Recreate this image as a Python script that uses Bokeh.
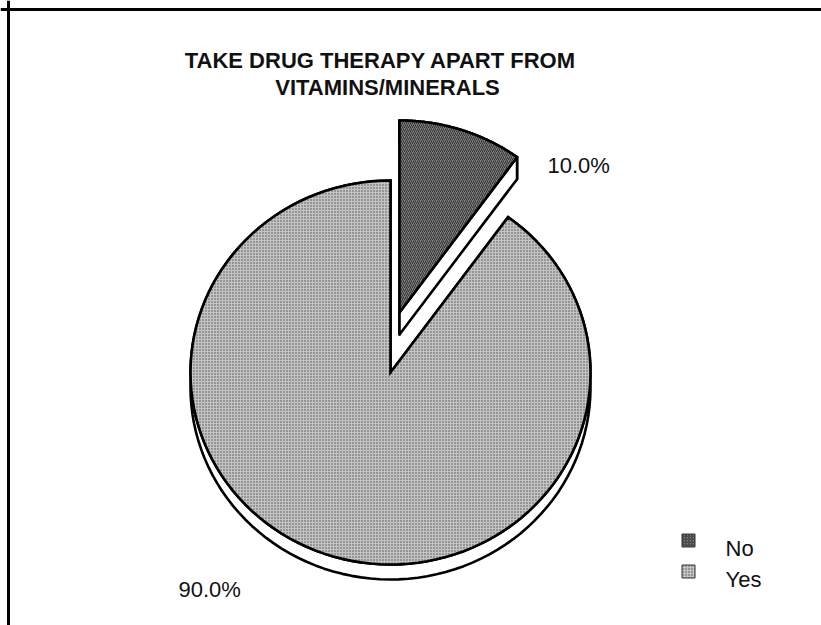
import numpy as np
from bokeh.plotting import figure
from bokeh.models import Range1d, Span
from bokeh.core.properties import value
from bokeh.embed import file_html
from bokeh.resources import INLINE

# ---- data ----
categories = ["No", "Yes"]
percentages = [10.0, 90.0]
pct_labels = ["10.0%", "90.0%"]
title_lines = ["TAKE DRUG THERAPY APART FROM", "VITAMINS/MINERALS"]

# ---- layout / style constants (pixels) ----
W, H = 821, 625
CX, CY = 390, 372
RX, RY = 200, 192
DEPTH = {"No": 22, "Yes": 15}
EXPLODE = {"No": (9, -60), "Yes": (0, 0)}
FILL = {"No": "#7e7e7e", "Yes": "#c4c4c4"}
HATCH = {"No": "right_diagonal_line", "Yes": "dot"}
HATCH_SCALE = {"No": 4, "Yes": 3}
LABEL_POS = {"No": (547, 165), "Yes": (178, 589)}
LEGEND_MARK_X, LEGEND_TEXT_X = 688, 725
LEGEND_Y = {"No": 540, "Yes": 571}
FONT = value("Liberation Sans")
LW = 2.6

p = figure(width=W, height=H, x_range=Range1d(0, W), y_range=Range1d(H, 0),
           output_backend="svg", toolbar_location=None, min_border=0,
           x_axis_location=None, y_axis_location=None)
p.grid.visible = False
p.outline_line_color = None
p.background_fill_color = "white"
p.border_fill_color = "white"

# frame (left and top edges visible)
p.add_layout(Span(location=8, dimension="height", line_color="black", line_width=3))
p.add_layout(Span(location=9, dimension="width", line_color="black", line_width=3))


def arc_pts(cx, cy, t0, t1, n=120):
    t = np.linspace(t0, t1, n)
    return cx + RX * np.sin(t), cy - RY * np.cos(t)


total = sum(percentages)
start = 0.0
for cat, v in zip(categories, percentages):
    t0 = start
    t1 = start + 2 * np.pi * v / total
    start = t1
    dx, dy = EXPLODE[cat]
    vx, vy = CX + dx, CY + dy
    d = DEPTH[cat]
    ax, ay = arc_pts(vx, vy, t0, t1)

    side_kw = dict(fill_color="white", line_color="black", line_width=LW, line_join="round")
    # outer side band (top arc + reversed bottom arc)
    p.patch(np.concatenate([ax, ax[::-1]]), np.concatenate([ay, (ay + d)[::-1]]), **side_kw)
    # radial faces
    for ex, ey in [(ax[0], ay[0]), (ax[-1], ay[-1])]:
        p.patch([vx, ex, ex, vx], [vy, ey, ey + d, vy + d], **side_kw)
    # top face
    px = np.concatenate([[vx], ax, [vx]])
    py = np.concatenate([[vy], ay, [vy]])
    p.patch(px, py, fill_color=FILL[cat], line_color="black", line_width=LW,
            line_join="miter", hatch_pattern=HATCH[cat], hatch_color="black",
            hatch_alpha=0.6, hatch_scale=HATCH_SCALE[cat], hatch_weight=1)

# percentage labels
p.text(x=[LABEL_POS[c][0] for c in categories], y=[LABEL_POS[c][1] for c in categories],
       text=pct_labels, text_font=FONT, text_font_size="22px",
       text_align="left", text_baseline="alphabetic", text_color="#111111")

# title
p.text(x=[380, 387], y=[60, 87], text=title_lines, text_font=FONT,
       text_font_size="22px", text_font_style="bold", text_align="center",
       text_baseline="alphabetic", text_color="#111111")

# legend
p.rect(x=[LEGEND_MARK_X] * len(categories), y=[LEGEND_Y[c] for c in categories],
       width=13, height=13, fill_color=[FILL[c] for c in categories],
       line_color="#333333", line_width=1,
       hatch_pattern=[HATCH[c] for c in categories], hatch_color="black",
       hatch_alpha=0.6, hatch_scale=3, hatch_weight=1)
p.text(x=[LEGEND_TEXT_X] * len(categories), y=[LEGEND_Y[c] + 8 for c in categories],
       text=categories, text_font=FONT, text_font_size="22px",
       text_align="left", text_baseline="alphabetic", text_color="#111111")

open("out.html", "w").write(file_html(p, INLINE))
